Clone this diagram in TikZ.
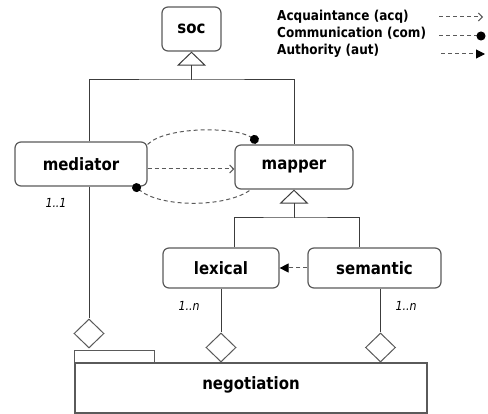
\documentclass[tikz,border=0pt]{standalone}
\usepackage{fontspec}
\setmainfont{DejaVu Sans}[FakeStretch=0.88]
\usetikzlibrary{calc}
\usetikzlibrary{arrows.meta,shapes.geometric}

\definecolor{linegray}{HTML}{3C3C3C}
\definecolor{boxgray}{HTML}{5A5A5A}

\tikzset{
	agent/.style={draw=boxgray, line width=1.2pt, rounded corners=6pt, fill=white, inner sep=0pt, font=\fontsize{17}{20}\bfseries},
	whole/.style={draw=boxgray, line width=1.2pt, fill=white, inner sep=0pt, text height=13pt, text depth=9pt, font=\fontsize{17}{20}\bfseries},
	part/.style={diamond, draw=boxgray, line width=1pt, fill=white, inner sep=0pt, minimum width=30pt, minimum height=29pt},
	mult/.style={font=\fontsize{12.5}{14}\itshape, inner sep=0pt},
	legend/.style={anchor=base west, inner sep=0pt, font=\fontsize{13.7}{16}\bfseries},
	plain/.style={draw=linegray, line width=1pt},
	isa/.style={plain, -{Triangle[open, length=14pt, width=29pt]}},
	dashline/.style={draw=boxgray, line width=1pt, dash pattern=on 4pt off 3pt},
	acq/.style={dashline, -{Straight Barb[length=4pt, width=8pt]}},
	com/.style={dashline, -{Circle[length=9pt, color=black]}, shorten >=-4.5pt},
	aut/.style={dashline, -{Triangle[length=9pt, width=9pt, color=black]}}
}

\begin{document}
\begin{tikzpicture}[x=1pt, y=-1pt]
			\clip (0,0) rectangle (488,414);

			\node[agent, minimum width=59pt, minimum height=44pt] (soc) at (191.5,29) {soc};
			\node[agent, minimum width=132pt, minimum height=44pt] (mediator) at ($(soc)+(-110.5,135)$) {mediator};
			\node[agent, minimum width=118pt, minimum height=44pt] (mapper) at ($(soc)+(102.5,138)$) {mapper};
			\node[agent, minimum width=116pt, minimum height=40pt] (lexical) at ($(mapper)+(-73,101)$) {lexical};
			\node[agent, minimum width=133pt, minimum height=40pt] (semantic) at ($(lexical)+(153.5,0)$) {semantic};
			\node[whole, minimum width=352pt, minimum height=50pt] (negotiation) at ($(soc)+(59.5,359)$) {negotiation};
			\draw[draw=boxgray, line width=1.2pt] (negotiation.north west) rectangle ($(negotiation.north west)+(80,-12)$);

			\node[part] (dmed) at ($(mediator)+(8,169.5)$) {};
			\node[part] (dlex) at ($(lexical)+(0,79.5)$) {};
			\node[part] (dsem) at ($(semantic)+(6,79.5)$) {};

			\node[mult] (mmed) at ($(mediator)+(-25,39)$) {1..1};
			\node[mult] (mlex) at ($(lexical)+(-32,38)$) {1..n};
			\node[mult] (msem) at ($(semantic)+(31.5,38)$) {1..n};

			% inheritance
			\coordinate (socjoin) at ($(soc)+(0,51)$);
			\coordinate (mapjoin) at ($(mapper)+(0,51)$);
			\draw[isa] (socjoin) -- (soc.south);
			\draw[plain] (dmed.north |- mediator.north) |- (socjoin) -| (mapper.north);
			\draw[isa] (mapjoin) -- (mapper.south);
			\draw[plain] (mapper.south west |- lexical.north) |- (mapjoin) -| ($(semantic.north west)+(52,0)$);

			% aggregation
			\draw[plain] (dmed.north |- mediator.south) -- (dmed.north);
			\draw[plain] (lexical.south) -- (dlex.north);
			\draw[plain] (dsem.north |- semantic.south) -- (dsem.north);

			% relations
			\coordinate (comtop) at ($(mapper.north west)+(20,-5)$);
			\coordinate (combot) at ($(mediator.south east)+(-11,1)$);
			\draw[com] ($(mediator.north east)+(0,3)$) .. controls +(18,-18) and ($(comtop)+(-20,-13)$) .. (comtop);
			\draw[com] ($(mapper.south west)+(15,1)$) .. controls +(-25,17) and ($(combot)+(24,20)$) .. (combot);
			\draw[acq] ($(mediator.east)+(0,5)$) -- ($(mapper.west)+(0,2)$);
			\draw[aut] (semantic.west) -- (lexical.east);

			% legend
			\node[legend] (lacq) at (277,21) {Acquaintance (acq)};
			\node[legend] (lcom) at (277,38) {Communication (com)};
			\node[legend] (laut) at (277,55) {Authority (aut)};
			\coordinate (acqA) at (439,17);
			\coordinate (acqB) at (483,17);
			\coordinate (comA) at (439,36);
			\coordinate (comB) at (481,36);
			\coordinate (autA) at (441,54);
			\coordinate (autB) at (485,54);
			\draw[acq] (acqA) -- (acqB);
			\draw[com] (comA) -- (comB);
			\draw[aut] (autA) -- (autB);

		\end{tikzpicture}
\end{document}
